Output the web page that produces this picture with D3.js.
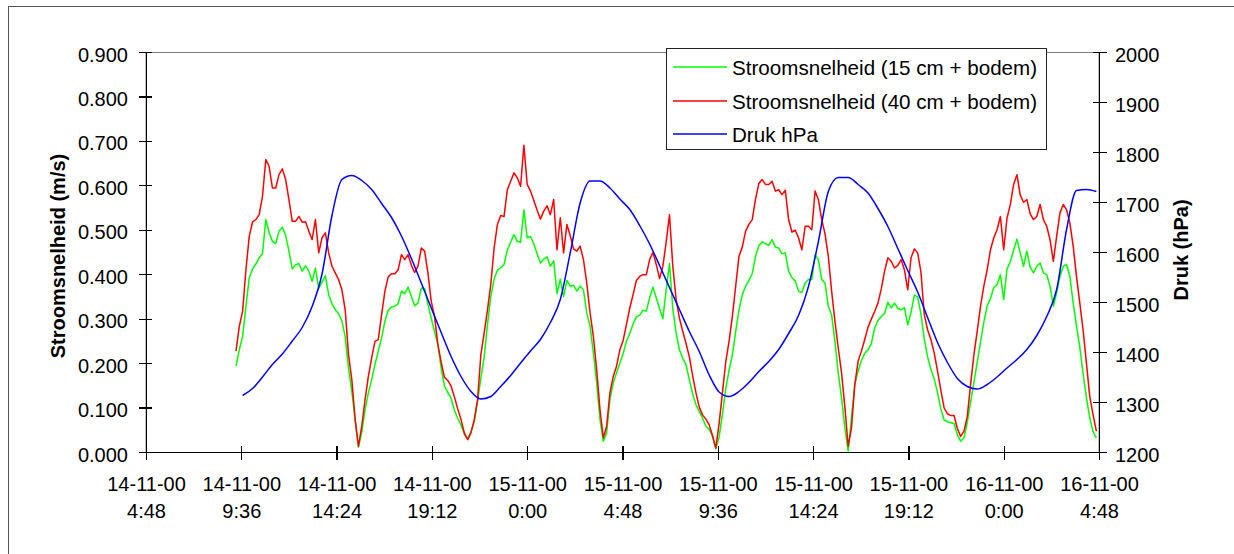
<!DOCTYPE html>
<html>
<head>
<meta charset="utf-8">
<title>Stroomsnelheid en druk</title>
<script src="https://d3js.org/d3.v7.min.js"></script>
<style>
  body { margin: 0; background: #fff; }
  text { font-family: "Liberation Sans", Arial, sans-serif; fill: #000; }
  .axis path, .axis line { stroke: #000; stroke-width: 1.3; shape-rendering: crispEdges; }
  .series { fill: none; stroke-width: 1.5; stroke-linejoin: round; }
</style>
</head>
<body>
<script>
// speed readings, one every 10 minutes from 14-11-00 9:20
var speedStart = new Date(2000, 10, 14, 9, 20);
var speedStep = 10;

var speed15 = [
  0.193,0.230,0.260,0.328,0.392,0.412,0.423,0.437,0.446,0.523,
  0.494,0.474,0.469,0.497,0.506,0.487,0.452,0.412,0.421,0.424,
  0.407,0.419,0.407,0.384,0.414,0.368,0.382,0.397,0.354,0.334,
  0.320,0.311,0.295,0.259,0.187,0.137,0.073,0.011,0.044,0.095,
  0.133,0.163,0.197,0.227,0.257,0.294,0.319,0.326,0.328,0.334,
  0.362,0.356,0.371,0.350,0.329,0.335,0.369,0.368,0.332,0.301,
  0.271,0.241,0.189,0.148,0.134,0.121,0.094,0.076,0.061,0.040,
  0.029,0.046,0.068,0.114,0.167,0.214,0.287,0.350,0.389,0.409,
  0.414,0.422,0.455,0.472,0.489,0.474,0.472,0.545,0.482,0.485,
  0.468,0.446,0.425,0.434,0.439,0.418,0.430,0.356,0.389,0.350,
  0.386,0.373,0.375,0.362,0.373,0.365,0.313,0.283,0.223,0.155,
  0.073,0.024,0.043,0.118,0.155,0.178,0.200,0.221,0.250,0.266,
  0.288,0.304,0.308,0.319,0.317,0.347,0.371,0.347,0.323,0.300,
  0.365,0.424,0.322,0.268,0.230,0.211,0.196,0.163,0.131,0.107,
  0.091,0.076,0.058,0.051,0.035,0.007,0.034,0.085,0.142,0.184,
  0.218,0.271,0.320,0.353,0.373,0.386,0.401,0.440,0.464,0.473,
  0.469,0.465,0.478,0.461,0.459,0.446,0.448,0.407,0.392,0.385,
  0.362,0.359,0.380,0.388,0.388,0.444,0.433,0.388,0.380,0.328,
  0.308,0.249,0.178,0.122,0.054,0.002,0.079,0.152,0.182,0.206,
  0.222,0.230,0.244,0.279,0.296,0.305,0.312,0.337,0.324,0.335,
  0.323,0.320,0.325,0.286,0.314,0.353,0.349,0.310,0.254,0.214,
  0.186,0.164,0.134,0.097,0.072,0.068,0.066,0.064,0.039,0.024,
  0.032,0.067,0.112,0.157,0.202,0.247,0.292,0.329,0.345,0.370,
  0.377,0.399,0.343,0.412,0.428,0.454,0.479,0.448,0.418,0.452,
  0.416,0.403,0.418,0.425,0.403,0.399,0.373,0.328,0.358,0.395,
  0.418,0.422,0.395,0.335,0.283,0.236,0.176,0.123,0.077,0.046,
  0.032
];

var speed40 = [
  0.227,0.283,0.317,0.410,0.485,0.518,0.523,0.534,0.575,0.658,
  0.643,0.594,0.594,0.624,0.637,0.613,0.568,0.519,0.519,0.530,
  0.517,0.518,0.497,0.478,0.523,0.448,0.482,0.493,0.448,0.418,
  0.403,0.388,0.365,0.320,0.219,0.163,0.073,0.013,0.058,0.118,
  0.170,0.212,0.249,0.253,0.309,0.362,0.394,0.401,0.401,0.410,
  0.444,0.433,0.444,0.420,0.404,0.418,0.459,0.452,0.403,0.339,
  0.305,0.242,0.202,0.168,0.161,0.148,0.124,0.097,0.073,0.043,
  0.028,0.043,0.073,0.118,0.219,0.268,0.320,0.377,0.459,0.512,
  0.532,0.530,0.590,0.609,0.628,0.617,0.598,0.690,0.602,0.587,
  0.566,0.544,0.524,0.542,0.554,0.534,0.568,0.455,0.527,0.448,
  0.512,0.487,0.457,0.452,0.463,0.433,0.380,0.313,0.260,0.185,
  0.095,0.032,0.058,0.133,0.170,0.193,0.230,0.251,0.287,0.324,
  0.354,0.386,0.395,0.399,0.399,0.433,0.449,0.422,0.390,0.418,
  0.472,0.534,0.418,0.344,0.301,0.272,0.244,0.214,0.172,0.133,
  0.101,0.083,0.074,0.061,0.037,0.009,0.065,0.133,0.203,0.249,
  0.305,0.373,0.440,0.461,0.497,0.512,0.523,0.569,0.604,0.613,
  0.602,0.602,0.609,0.587,0.590,0.579,0.589,0.523,0.495,0.499,
  0.482,0.455,0.508,0.508,0.500,0.587,0.568,0.523,0.491,0.440,
  0.362,0.294,0.234,0.178,0.101,0.013,0.054,0.152,0.204,0.227,
  0.253,0.281,0.299,0.316,0.335,0.367,0.407,0.437,0.429,0.414,
  0.420,0.433,0.410,0.365,0.437,0.457,0.448,0.404,0.309,0.275,
  0.253,0.223,0.182,0.139,0.099,0.086,0.082,0.082,0.053,0.035,
  0.047,0.080,0.152,0.219,0.272,0.328,0.373,0.410,0.455,0.482,
  0.500,0.530,0.455,0.526,0.557,0.602,0.624,0.578,0.562,0.568,
  0.536,0.523,0.530,0.557,0.523,0.508,0.478,0.429,0.485,0.538,
  0.557,0.545,0.515,0.463,0.395,0.335,0.274,0.200,0.125,0.084,
  0.047
];

// pressure, one reading every 30 minutes from 14-11-00 9:40
var pressureStart = new Date(2000, 10, 14, 9, 40);
var pressureStep = 30;
var pressure = [
  1313,1327,1350,1375,1396,1422,1449,1491,1556,1673,
  1745,1753,1743,1725,1697,1669,1632,1587,1538,1488,
  1439,1391,1351,1321,1306,1311,1331,1353,1378,1402,
  1425,1459,1505,1598,1698,1742,1742,1728,1706,1685,
  1653,1616,1573,1529,1485,1441,1401,1354,1320,1311,
  1321,1339,1361,1381,1405,1437,1473,1531,1621,1721,
  1749,1749,1735,1718,1687,1651,1607,1563,1520,1469,
  1419,1379,1347,1331,1326,1335,1350,1368,1385,1405,
  1433,1471,1525,1645,1723,1725,1721
];

var timeStart = new Date(2000, 10, 14, 4, 48);
var timeEnd = new Date(2000, 10, 16, 4, 48);
var tickMinutes = 288;   // 4:48 between ticks
var speedTicks = [0, 0.1, 0.2, 0.3, 0.4, 0.5, 0.6, 0.7, 0.8, 0.9];
var pressureTicks = [1200, 1300, 1400, 1500, 1600, 1700, 1800, 1900, 2000];

var seriesNames = ["Stroomsnelheid (15 cm + bodem)", "Stroomsnelheid (40 cm + bodem)", "Druk hPa"];
var seriesColors = ["#00ff00", "#ff0000", "#0000ff"];

var width = 1234, height = 554,
    plotL = 146, plotR = 1099, plotT = 52, plotB = 452;

var svg = d3.select("body").append("svg")
    .attr("width", width)
    .attr("height", height);

svg.append("rect")
    .attr("x", 8.5).attr("y", 6.5)
    .attr("width", 1400).attr("height", 800)
    .attr("fill", "#fff")
    .attr("stroke", "#555");

var x = d3.scaleTime().domain([timeStart, timeEnd]).range([plotL, plotR]);
var yL = d3.scaleLinear().domain([0, 0.9]).range([plotB, plotT]);
var yR = d3.scaleLinear().domain([1200, 2000]).range([plotB, plotT]);

// plot area frame (only the top edge shows)
svg.append("rect")
    .attr("x", plotL).attr("y", plotT + 0.5)
    .attr("width", plotR - plotL).attr("height", plotB - plotT)
    .attr("fill", "none")
    .attr("stroke", "#808080");

var speedTime = function (i) { return d3.timeMinute.offset(speedStart, i * speedStep); };
var pressTime = function (i) { return d3.timeMinute.offset(pressureStart, i * pressureStep); };

var lineL = d3.line()
    .x(function (d, i) { return x(speedTime(i)); })
    .y(function (d) { return yL(d); });

var lineR = d3.line()
    .curve(d3.curveMonotoneX)
    .x(function (d, i) { return x(pressTime(i)); })
    .y(function (d) { return yR(d); });

svg.append("path").attr("class", "series")
    .attr("stroke", seriesColors[0]).attr("d", lineL(speed15));
svg.append("path").attr("class", "series")
    .attr("stroke", seriesColors[1]).attr("d", lineL(speed40));
svg.append("path").attr("class", "series")
    .attr("stroke", seriesColors[2]).attr("d", lineR(pressure));

// axes
var xTicks = d3.range(11).map(function (i) { return d3.timeMinute.offset(timeStart, i * tickMinutes); });

var gx = svg.append("g").attr("class", "axis")
    .attr("transform", "translate(0," + plotB + ")")
    .call(d3.axisBottom(x).tickValues(xTicks).tickSize(8).tickSizeOuter(0).tickFormat(""));
gx.selectAll(".tick line").attr("y1", -6);
var fmtDay = d3.timeFormat("%d-%m-%y"), fmtHour = d3.timeFormat("%-H:%M");
gx.selectAll(".tick text").remove();
gx.selectAll(".tick").append("text")
    .attr("text-anchor", "middle")
    .style("font-size", "20px")
    .each(function (d) {
      var t = d3.select(this);
      t.append("tspan").attr("x", 0).attr("y", 39).text(fmtDay(d));
      t.append("tspan").attr("x", 0).attr("y", 66).text(fmtHour(d));
    });

var gl = svg.append("g").attr("class", "axis")
    .attr("transform", "translate(" + plotL + ",0)")
    .call(d3.axisLeft(yL).tickValues(speedTicks).tickSize(7).tickSizeOuter(0)
      .tickPadding(11).tickFormat(d3.format(".3f")));
gl.selectAll(".tick line").attr("x1", 6);
gl.selectAll(".tick text").attr("dy", "0.45em").style("font-size", "20px");

var gr = svg.append("g").attr("class", "axis")
    .attr("transform", "translate(" + plotR + ",0)")
    .call(d3.axisRight(yR).tickValues(pressureTicks).tickSize(8).tickSizeOuter(0)
      .tickPadding(8).tickFormat(d3.format("d")));
gr.selectAll(".tick line").attr("x1", -6);
gr.selectAll(".tick text").attr("dy", "0.45em").style("font-size", "20px");

svg.selectAll(".axis").attr("font-family", null).attr("font-size", null);

// axis titles
svg.append("text")
    .attr("transform", "translate(65,256) rotate(-90)")
    .attr("text-anchor", "middle")
    .style("font-size", "20px").style("font-weight", "bold")
    .text("Stroomsnelheid (m/s)");

svg.append("text")
    .attr("transform", "translate(1188,250) rotate(-90)")
    .attr("text-anchor", "middle")
    .style("font-size", "20px").style("font-weight", "bold")
    .text("Druk (hPa)");

// legend
var legend = svg.append("g");
legend.append("rect")
    .attr("x", 666.5).attr("y", 48.5)
    .attr("width", 380).attr("height", 101)
    .attr("fill", "#fff").attr("stroke", "#222");

var item = legend.selectAll(".item")
    .data(seriesNames)
  .enter().append("g")
    .attr("transform", function (d, i) { return "translate(0," + [67, 101, 134][i] + ")"; });

item.append("line")
    .attr("x1", 673).attr("x2", 727)
    .attr("stroke", function (d, i) { return seriesColors[i]; })
    .attr("stroke-width", 1.5);

item.append("text")
    .attr("x", 732).attr("y", 7.5)
    .style("font-size", "20.6px")
    .text(function (d) { return d; });
</script>
</body>
</html>
